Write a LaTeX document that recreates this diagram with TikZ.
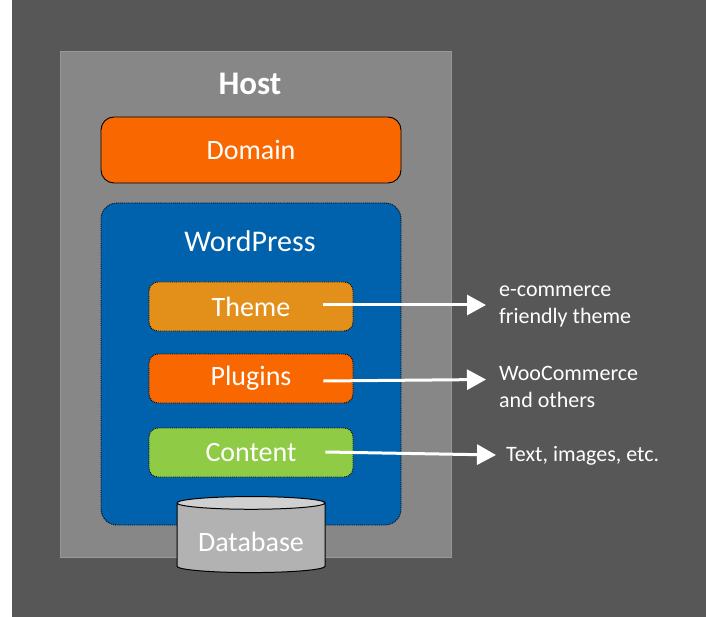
\documentclass[tikz,border=0pt]{standalone}
\usepackage{fontspec}
\setmainfont{Carlito}
\usepackage{xcolor}
\usetikzlibrary{arrows.meta, shapes.geometric}

\definecolor{slide}{HTML}{575757}
\definecolor{hostgray}{HTML}{878787}
\definecolor{hostline}{HTML}{989898}
\definecolor{wpblue}{HTML}{0061AC}
\definecolor{domorange}{HTML}{F96800}
\definecolor{themeyellow}{HTML}{E3901A}
\definecolor{contgreen}{HTML}{8FCB45}
\definecolor{dbbody}{HTML}{B2B2B2}
\definecolor{dbtop}{HTML}{D0D0D0}

\begin{document}
\begin{tikzpicture}[x=1pt, y=-1pt,
        every node/.style={text=white, inner sep=0pt},
        box/.style={rectangle, rounded corners=9pt, minimum width=204pt,
        minimum height=49pt, draw=black, densely dotted, line width=0.9pt,
        font=\fontsize{28}{30}\selectfont},
        note/.style={anchor=west, align=left, font=\fontsize{22}{27}\selectfont},
        pointer/.style={draw=white, line width=3pt, -{Triangle[width=20pt, length=19pt]}}]
        \useasboundingbox (0,0) rectangle (706,617);
        \fill[white] (0,0) rectangle (706,617);
        \fill[slide] (12,0) rectangle (706,617);

        \node[fill=hostgray, draw=hostline, line width=1.5pt, minimum width=391pt,
        minimum height=506pt] (host) at (256,304.5) {};
        \node[font=\fontsize{33}{35}\selectfont\bfseries] (hosttitle) at (250,84) {Host};

        \node[box, solid, fill=domorange, minimum width=300pt, minimum height=66pt,
        rounded corners=13pt] (domain) at (251,150) {Domain};

        \node[box, fill=wpblue, minimum width=300pt, minimum height=322pt,
        rounded corners=16pt] (wp) at (251,364) {};
        \node[font=\fontsize{30}{32}\selectfont] (wptitle) at (250,241) {WordPress};

        \node[box, fill=themeyellow] (theme) at (251,306.5) {Theme};
        \node[box, fill=domorange] (plugins) at (251,378.5) {Plugins};
        \node[box, fill=contgreen] (content) at (251,452.5) {Content};

        \node[note] (ecom) at (499,306.5) {e-commerce\\friendly theme};
        \node[note] (woo) at (499,386.5) {WooCommerce\\and others};
        \node[note] (media) at (506,456) {Text, images, etc.};

        \draw[pointer] ([xshift=-30pt]theme.east |- 0,305) -- ([shift={(-13,-1.5)}]ecom.west);
        \draw[pointer] ([xshift=-30pt]plugins.east |- 0,381) -- ([shift={(-13,-7)}]woo.west);
        \draw[pointer] ([xshift=-28pt]content.east |- 0,452) -- ([shift={(-10,-1)}]media.west);

        \node[cylinder, shape border rotate=90, aspect=0.12, draw=black, line width=1pt,
        cylinder uses custom fill, cylinder body fill=dbbody, cylinder end fill=dbtop,
        minimum width=148pt, minimum height=76pt, font=\fontsize{28}{30}\selectfont,
        text depth=0pt] (db) at (251,538) {\raisebox{-8pt}{Database}};
    \end{tikzpicture}
\end{document}
